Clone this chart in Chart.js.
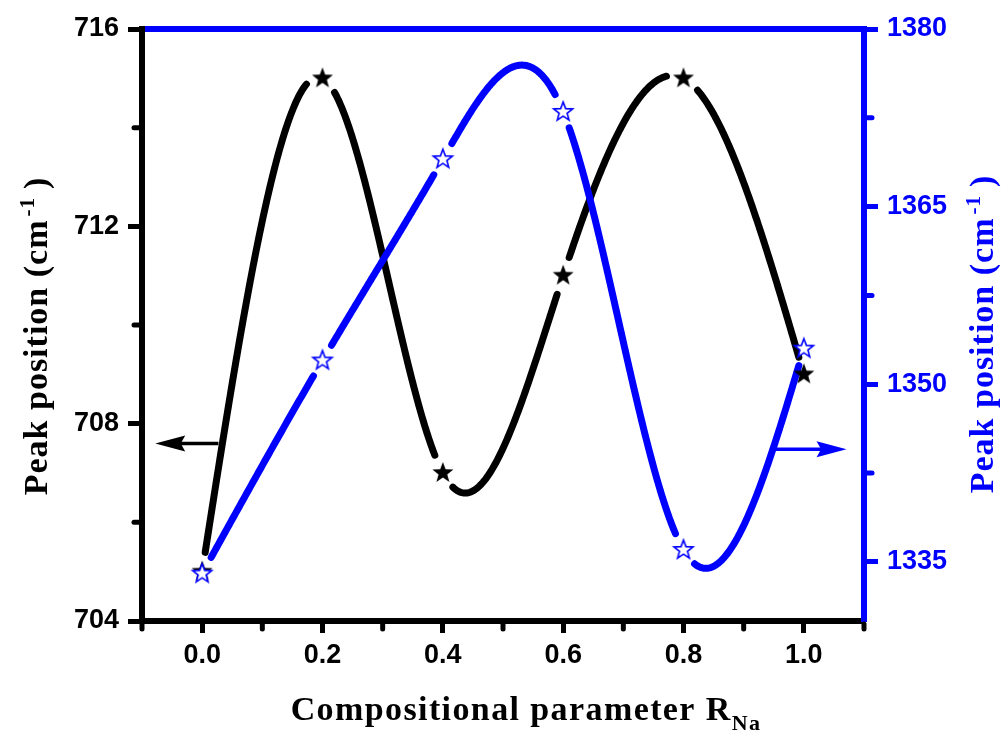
<!DOCTYPE html>
<html>
<head>
<meta charset="utf-8">
<script src="https://cdn.jsdelivr.net/npm/chart.js@4"></script>
<style>
  html, body { margin: 0; padding: 0; background: #fff; }
  #wrap { width: 1005px; height: 733px; }
</style>
</head>
<body>
<div id="wrap"><canvas id="peakChart" width="1005" height="733"></canvas></div>
<script>
// peak positions vs. sodium fraction
const compositions = [0.0, 0.2, 0.4, 0.6, 0.8, 1.0];
const peakLow = [705, 715, 707, 711, 715, 709];
const peakHigh = [1334, 1352, 1369, 1373, 1336, 1353];

const xTicks = [0.0, 0.2, 0.4, 0.6, 0.8, 1.0];
const xMinorTicks = [-0.1, 0.1, 0.3, 0.5, 0.7, 0.9, 1.1];
const leftTicks = [704, 708, 712, 716];
const leftMinorTicks = [706, 710, 714];
const rightTicks = [1335, 1350, 1365, 1380];
const rightMinorTicks = [1342.5, 1357.5, 1372.5];

const BLUE = "#0000ff";
const BLACK = "#000000";
const TICK_FONT = { family: "'Liberation Sans', Arial, sans-serif", size: 27, weight: "bold" };
const TITLE_FAMILY = "'Liberation Serif', 'Times New Roman', serif";

// which way each series points
const arrows = [
  { yAxis: "y", y: 707.6, from: 0.027, to: -0.078, color: BLACK },
  { yAxis: "yRight", y: 1344.5, from: 0.952, to: 1.071, color: BLUE }
];

function starCanvas(outer, inner, fill, stroke, lw) {
  const size = Math.ceil(outer * 2 + lw * 2 + 2);
  const c = document.createElement("canvas");
  c.width = size;
  c.height = size;
  const g = c.getContext("2d");
  g.translate(size / 2, size / 2);
  g.beginPath();
  for (let i = 0; i < 10; i++) {
    const r = i % 2 ? inner : outer;
    const a = -Math.PI / 2 + i * Math.PI / 5;
    g.lineTo(r * Math.cos(a), r * Math.sin(a));
  }
  g.closePath();
  g.fillStyle = fill;
  g.fill();
  if (stroke) {
    g.lineWidth = lw;
    g.strokeStyle = stroke;
    g.lineJoin = "miter";
    g.stroke();
  }
  return c;
}

const blackStar = starCanvas(11, 4.6, BLACK, null, 0);
const blueStar = starCanvas(10, 4.2, "#ffffff", BLUE, 1.6);

// natural cubic spline through (xs, ys), returns evaluator
function naturalSpline(xs, ys) {
  const n = xs.length;
  const h = [];
  for (let i = 0; i < n - 1; i++) h.push(xs[i + 1] - xs[i]);
  const m = new Array(n).fill(0);
  const a = [], b = [], c = [], d = [];
  for (let i = 1; i < n - 1; i++) {
    a.push(h[i - 1]);
    b.push(2 * (h[i - 1] + h[i]));
    c.push(h[i]);
    d.push(6 * ((ys[i + 1] - ys[i]) / h[i] - (ys[i] - ys[i - 1]) / h[i - 1]));
  }
  const k = b.length;
  for (let i = 1; i < k; i++) {
    const w = a[i] / b[i - 1];
    b[i] -= w * c[i - 1];
    d[i] -= w * d[i - 1];
  }
  const sol = new Array(k);
  sol[k - 1] = d[k - 1] / b[k - 1];
  for (let i = k - 2; i >= 0; i--) sol[i] = (d[i] - c[i] * sol[i + 1]) / b[i];
  for (let i = 0; i < k; i++) m[i + 1] = sol[i];

  return x => {
    let i = 0;
    while (i < n - 2 && x > xs[i + 1]) i++;
    const hi = h[i];
    const t1 = xs[i + 1] - x, t0 = x - xs[i];
    return m[i] * t1 * t1 * t1 / (6 * hi) + m[i + 1] * t0 * t0 * t0 / (6 * hi) +
      (ys[i] / hi - m[i] * hi / 6) * t1 + (ys[i + 1] / hi - m[i + 1] * hi / 6) * t0;
  };
}

// spline curves under the markers, broken around each symbol
const splinePlugin = {
  id: "splineLines",
  beforeDatasetsDraw(chart) {
    const ctx = chart.ctx;
    const xs = chart.scales.x;
    const sets = chart.data.datasets.slice().sort((p, q) => q.order - p.order);
    sets.forEach(ds => {
      const ys = chart.scales[ds.yAxisID];
      const px = ds.data.map(p => p.x);
      const py = ds.data.map(p => p.y);
      const f = naturalSpline(px, py);
      const marks = ds.data.map(p => [xs.getPixelForValue(p.x), ys.getPixelForValue(p.y)]);
      const steps = 600;
      ctx.save();
      ctx.strokeStyle = ds.lineColor;
      ctx.lineWidth = 7;
      ctx.lineCap = "round";
      ctx.lineJoin = "round";
      ctx.beginPath();
      let pen = false;
      for (let s = 0; s <= steps; s++) {
        const x = px[0] + (px[px.length - 1] - px[0]) * s / steps;
        const X = xs.getPixelForValue(x);
        const Y = ys.getPixelForValue(f(x));
        const hidden = marks.some(([mx, my]) => Math.hypot(X - mx, Y - my) < ds.gap);
        if (hidden) { pen = false; continue; }
        if (pen) ctx.lineTo(X, Y); else { ctx.moveTo(X, Y); pen = true; }
      }
      ctx.stroke();
      ctx.restore();
    });
  }
};

function drawRich(ctx, parts, cx, baseline, spacing) {
  ctx.letterSpacing = spacing + "px";
  let total = 0;
  parts.forEach(p => {
    ctx.font = `bold ${p.size}px ${TITLE_FAMILY}`;
    p.w = ctx.measureText(p.text).width;
    total += p.w + (p.gap || 0);
  });
  let x = cx - total / 2;
  ctx.textAlign = "left";
  ctx.textBaseline = "alphabetic";
  parts.forEach(p => {
    x += p.gap || 0;
    ctx.font = `bold ${p.size}px ${TITLE_FAMILY}`;
    ctx.fillText(p.text, x, baseline + (p.dy || 0));
    x += p.w;
  });
  ctx.letterSpacing = "0px";
}

const decorPlugin = {
  id: "decor",
  afterDraw(chart) {
    const ctx = chart.ctx;
    const xs = chart.scales.x, yl = chart.scales.y, yr = chart.scales.yRight;
    const area = chart.chartArea;

    // minor ticks
    ctx.save();
    ctx.lineWidth = 5;
    ctx.lineCap = "round";
    ctx.strokeStyle = BLACK;
    xMinorTicks.forEach(v => {
      const X = xs.getPixelForValue(v);
      ctx.beginPath();
      ctx.moveTo(X, area.bottom + 3);
      ctx.lineTo(X, area.bottom + 8);
      ctx.stroke();
    });
    leftMinorTicks.forEach(v => {
      const Y = yl.getPixelForValue(v);
      ctx.beginPath();
      ctx.moveTo(area.left - 3, Y);
      ctx.lineTo(area.left - 8, Y);
      ctx.stroke();
    });
    ctx.strokeStyle = BLUE;
    rightMinorTicks.forEach(v => {
      const Y = yr.getPixelForValue(v);
      ctx.beginPath();
      ctx.moveTo(area.right + 3, Y);
      ctx.lineTo(area.right + 8, Y);
      ctx.stroke();
    });
    ctx.restore();

    // arrows
    arrows.forEach(a => {
      const ys = chart.scales[a.yAxis];
      const Y = ys.getPixelForValue(a.y);
      const X0 = xs.getPixelForValue(a.from);
      const X1 = xs.getPixelForValue(a.to);
      const dir = Math.sign(X1 - X0);
      const head = 30;
      ctx.save();
      ctx.strokeStyle = a.color;
      ctx.fillStyle = a.color;
      ctx.lineWidth = 3.5;
      ctx.beginPath();
      ctx.moveTo(X0, Y);
      ctx.lineTo(X1 - dir * head * 0.8, Y);
      ctx.stroke();
      ctx.beginPath();
      ctx.moveTo(X1, Y);
      ctx.lineTo(X1 - dir * head, Y - 8);
      ctx.lineTo(X1 - dir * head * 0.85, Y);
      ctx.lineTo(X1 - dir * head, Y + 8);
      ctx.closePath();
      ctx.fill();
      ctx.restore();
    });

    // axis titles
    const yTitle = [
      { text: "Peak position (cm", size: 34 },
      { text: "-1", size: 21, dy: -13, gap: 3 },
      { text: ")", size: 34, gap: 8 }
    ];
    ctx.save();
    ctx.fillStyle = BLACK;
    ctx.translate(47, 336);
    ctx.rotate(-Math.PI / 2);
    drawRich(ctx, yTitle, 0, 0, 1);
    ctx.restore();

    ctx.save();
    ctx.fillStyle = BLUE;
    ctx.translate(993, 334);
    ctx.rotate(-Math.PI / 2);
    drawRich(ctx, yTitle, 0, 0, 1);
    ctx.restore();

    ctx.save();
    ctx.fillStyle = BLACK;
    drawRich(ctx, [
      { text: "Compositional parameter R", size: 34 },
      { text: "Na", size: 22, dy: 10, gap: 0 }
    ], 526, 720, 1.4);
    ctx.restore();
  }
};

const fixedTicks = list => scale => { scale.ticks = list.map(v => ({ value: v })); };

new Chart(document.getElementById("peakChart"), {
  type: "scatter",
  data: {
    datasets: [
      {
        label: "Peak ~710",
        data: compositions.map((x, i) => ({ x, y: peakLow[i] })),
        yAxisID: "y",
        pointStyle: blackStar,
        pointRadius: 11,
        lineColor: BLACK,
        gap: 17,
        order: 1
      },
      {
        label: "Peak ~1350",
        data: compositions.map((x, i) => ({ x, y: peakHigh[i] })),
        yAxisID: "yRight",
        pointStyle: blueStar,
        pointRadius: 10,
        lineColor: BLUE,
        gap: 17,
        order: 0
      }
    ]
  },
  options: {
    responsive: false,
    animation: false,
    devicePixelRatio: 1,
    layout: { padding: 0 },
    plugins: { legend: { display: false }, tooltip: { enabled: false } },
    scales: {
      x: {
        type: "linear",
        position: "bottom",
        min: -0.1,
        max: 1.1,
        afterBuildTicks: fixedTicks(xTicks),
        afterFit: s => { s.height = 112; },
        border: { color: BLACK, width: 6 },
        grid: { drawOnChartArea: false, tickLength: 12, tickWidth: 5, tickColor: BLACK },
        ticks: { color: BLACK, font: TICK_FONT, padding: 6, callback: v => Number(v).toFixed(1) }
      },
      xTop: {
        type: "linear",
        position: "top",
        min: -0.1,
        max: 1.1,
        afterFit: s => { s.height = 29; },
        border: { color: BLUE, width: 6 },
        grid: { drawOnChartArea: false, drawTicks: false },
        ticks: { display: false }
      },
      y: {
        type: "linear",
        position: "left",
        min: 704,
        max: 716,
        afterBuildTicks: fixedTicks(leftTicks),
        afterFit: s => { s.width = 142; },
        border: { color: BLACK, width: 6 },
        grid: { drawOnChartArea: false, tickLength: 14, tickWidth: 5, tickColor: BLACK },
        ticks: { color: BLACK, font: TICK_FONT, padding: 9, callback: v => String(v) }
      },
      yRight: {
        type: "linear",
        position: "right",
        min: 1330,
        max: 1380,
        afterBuildTicks: fixedTicks(rightTicks),
        afterFit: s => { s.width = 141; },
        border: { color: BLUE, width: 6 },
        grid: { drawOnChartArea: false, tickLength: 14, tickWidth: 5, tickColor: BLUE },
        ticks: { color: BLUE, font: TICK_FONT, padding: 9, callback: v => String(v) }
      }
    }
  },
  plugins: [splinePlugin, decorPlugin]
});
</script>
</body>
</html>
